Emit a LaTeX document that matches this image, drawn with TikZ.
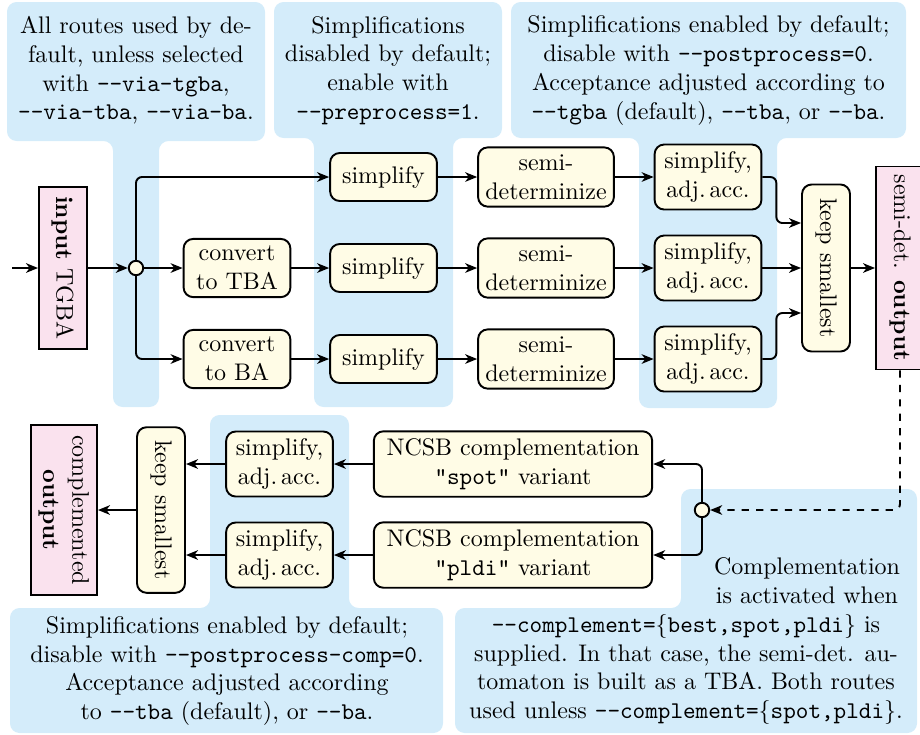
\documentclass[tikz,border=0pt]{standalone}
\usetikzlibrary{arrows.meta,calc}
\definecolor{procfill}{RGB}{255,252,230}
\definecolor{iofill}{RGB}{250,226,238}
\definecolor{notefill}{RGB}{212,236,250}
\newcommand{\opt}[1]{\texttt{#1}}
\newcommand{\dd}{-\kern0pt-}
\begin{document}
\begin{tikzpicture}[x=0.4167pt,y=-0.4167pt,thick,>={Stealth[length=5pt,width=4pt,inset=1.5pt]}]
    \tikzstyle{bg} = [fill=notefill,rounded corners=4pt]
    \tikzstyle{proc} = [draw,fill=procfill,rounded corners=4pt,align=center,
                        inner sep=3pt,minimum width=44.5pt,minimum height=20pt]
    \tikzstyle{io} = [draw,fill=iofill,rotate=-90,align=center,inner sep=2pt,
                      minimum height=20pt]
    \tikzstyle{junct} = [draw,circle,fill=procfill,inner sep=0pt,minimum size=6pt]
    \tikzstyle{ann} = [align=center,inner sep=0pt]
    \tikzstyle{link} = [->,rounded corners=2.5pt]
    \useasboundingbox (0,0) rectangle (920,734);
    % notes in the background
    \path[bg](7,2)--(265,2)--(265,141)--(159,141)--(159,407)--(113,407)
                  --(113,141)--(7,141)--cycle;
    \path[bg](274,2)--(502,2)--(502,138)--(453,138)--(453,407)--(314,407)
                  --(314,138)--(274,138)--cycle;
    \path[bg](511,2)--(906,2)--(906,138)--(777,138)--(777,408)--(639,408)
                  --(639,138)--(511,138)--cycle;
    \path[bg](10,733)--(10,608)--(210,608)--(210,415)--(349,415)--(349,608)
                  --(443,608)--(443,733)--cycle;
    \path[bg](455,733)--(455,608)--(681,608)--(681,489)--(917,489)
                  --(917,733)--cycle;
    \node[ann] (note1) at (136,70.5) {All routes used by de-\\fault, unless selected\\
        with \opt{\dd via-tgba},\\\opt{\dd via-tba}, \opt{\dd via-ba}.};
    \node[ann] (note2) at (388,70.5) {Simplifications\\disabled by default;\\
        enable with\\\opt{\dd preprocess=1}.};
    \node[ann] (note3) at (708.5,70.5) {Simplifications enabled by default;\\
        disable with \opt{\dd postprocess=0}.\\Acceptance adjusted according to\\
        \opt{\dd tgba} (default), \opt{\dd tba}, or \opt{\dd ba}.};
    \node[ann] (note4) at (227,671) {Simplifications enabled by default;\\
        disable with \opt{\dd postprocess-comp=0}.\\Acceptance adjusted according\\
        to \opt{\dd tba} (default), or \opt{\dd ba}.};
    \node[ann] (note5) at (807,580.5) {Complementation\\is activated when};
    \node[ann] (note6) at (686,669.5) {\opt{\dd complement=}\{\opt{best,spot,pldi}\} is\\
        supplied. In that case, the semi-det. au-\\tomaton is built as a TBA. Both routes\\
        used unless \opt{\dd complement=}\{\opt{spot,pldi}\}.};
    % semi-determinization
    \coordinate (start) at (12,268);
    \node[io,minimum width=67.5pt] (in) at (63,268) {\textbf{input} TGBA};
    \node[junct] (split1) at (136,268) {};
    \node[proc] (conv2) at (237,268) {convert\\to TBA};
    \node[proc] (conv3) at (237,359) {convert\\to BA};
    \node[proc] (simp1) at (383.5,177) {simplify};
    \node[proc] (simp2) at (383.5,268) {simplify};
    \node[proc] (simp3) at (383.5,359) {simplify};
    \node[proc] (sdet1) at (546,177) {semi-\\determinize};
    \node[proc] (sdet2) at (546,268) {semi-\\determinize};
    \node[proc] (sdet3) at (546,359) {semi-\\determinize};
    \node[proc] (sacc1) at (708,177) {simplify,\\adj.\,acc.};
    \node[proc] (sacc2) at (708,268) {simplify,\\adj.\,acc.};
    \node[proc] (sacc3) at (708,359) {simplify,\\adj.\,acc.};
    \node[proc,rotate=-90,minimum width=69.6pt] (keep) at (826,268) {keep smallest};
    \node[io,minimum width=84.6pt] (out) at (900,268) {semi-det. \textbf{output}};
    % complementation
    \node[junct] (split2) at (702,510) {};
    \node[proc,minimum width=116pt] (ncsb1) at (513,464)
        {NCSB complementation\\\opt{"spot"} variant};
    \node[proc,minimum width=116pt] (ncsb2) at (513,555)
        {NCSB complementation\\\opt{"pldi"} variant};
    \node[proc] (sacc4) at (279.5,464) {simplify,\\adj.\,acc.};
    \node[proc] (sacc5) at (279.5,555) {simplify,\\adj.\,acc.};
    \node[proc,rotate=-90,minimum width=69pt] (keep2) at (161,510) {keep smallest};
    \node[io,minimum width=70.5pt,minimum height=27.5pt] (cout) at (64,510)
        {complemented\\\textbf{output}};
    \draw[->] (start) -- (in);
    \draw[->] (in) -- (split1);
    \draw[->] (split1) -- (conv2);
    \draw[link] (split1.north) |- (simp1);
    \draw[link] (split1.south) |- (conv3);
    \draw[->] (conv2) -- (simp2);
    \draw[->] (conv3) -- (simp3);
    \foreach \i in {1,2,3} {
        \draw[->] (simp\i) -- (sdet\i);
        \draw[->] (sdet\i) -- (sacc\i);
    }
    \draw[link] (sacc1.east) -- ++(14,0) |- ($(keep.south)+(0,-45)$);
    \draw[->] (sacc2) -- (keep);
    \draw[link] (sacc3.east) -- ++(14,0) |- ($(keep.south)+(0,45)$);
    \draw[->] (keep) -- (out);
    \draw[link,dashed] (out.east) |- (split2);
    \draw[link] (split2.north) |- (ncsb1);
    \draw[link] (split2.south) |- (ncsb2);
    \draw[->] (ncsb1) -- (sacc4);
    \draw[->] (ncsb2) -- (sacc5);
    \draw[->] (sacc4) -- (sacc4 -| keep2.north);
    \draw[->] (sacc5) -- (sacc5 -| keep2.north);
    \draw[->] (keep2) -- (cout);
\end{tikzpicture}
\end{document}
